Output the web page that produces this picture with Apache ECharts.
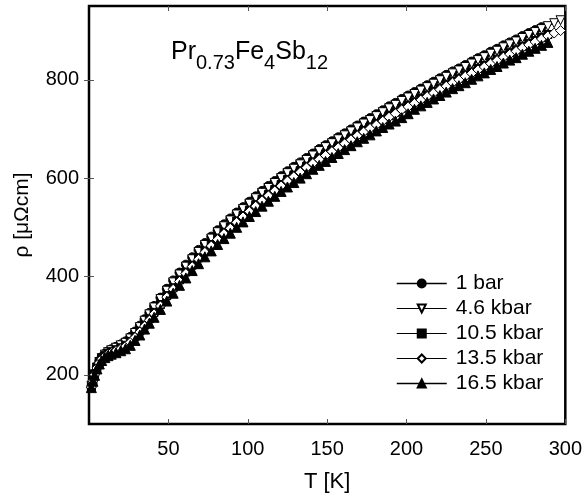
<!DOCTYPE html>
<html>
<head>
<meta charset="utf-8">
<script src="https://cdn.jsdelivr.net/npm/echarts@6/dist/echarts.min.js"></script>
<style>
  html, body { margin: 0; padding: 0; background: #fff; }
  #chart { width: 585px; height: 499px; }
</style>
</head>
<body>
<div id="chart"></div>
<script>
// temperature grid [K], shared by all pressures
const temps = [1.5, 2.5, 3.5, 5, 6.5, 8, 10, 12, 14, 17, 20, 23, 26, 29, 32, 35, 38,
  41, 45, 49, 53, 57, 61, 65, 69, 73, 77, 81, 85, 89, 93, 97, 101, 105, 109, 113, 117,
  121, 125, 129, 133, 137, 141, 145, 149, 153, 157, 161, 165, 169, 173, 177, 181, 185,
  189, 193, 197, 201, 205, 209, 213, 217, 221, 225, 229, 233, 237, 241, 245, 249, 253,
  257, 261, 265, 269, 273, 277, 281, 285, 289, 293, 297]

// resistivity [µΩcm]
const rho1bar = [176, 190, 203, 217, 228, 236, 243, 248, 252, 257, 262, 268, 277, 288, 300, 313, 326,
  340, 357, 375, 392, 408, 424, 439, 454, 468, 481, 494, 506, 518, 530, 541, 552, 563, 574, 584, 594,
  604, 614, 623, 632, 641, 650, 659, 667, 675, 683, 691, 699, 707, 715, 722, 730, 738,
  746, 753, 761, 768, 775, 782, 789, 796, 803, 810, 817, 823, 830, 837, 844, 850, 857,
  863, 870, 876, 882, 889, 895, 901, 907]
const rho4_6 = [177, 189, 201, 215, 226, 234, 241, 246, 250, 255, 260, 265, 274, 285, 297, 310, 323,
  337, 354, 371, 388, 404, 420, 435, 450, 464, 477, 490, 502, 514, 526, 537, 548, 559, 570, 580, 590,
  600, 610, 619, 628, 637, 646, 655, 663, 671, 679, 687, 695, 703, 711, 718, 726, 734,
  742, 749, 757, 764, 771, 778, 785, 792, 799, 806, 813, 819, 826, 833, 840, 846, 853,
  859, 866, 872, 878, 885, 891, 897, 903, 909, 915, 921]
const rho10_5 = [175, 189, 201, 215, 225, 233, 239, 244, 247, 251, 255, 260, 268, 278, 289, 301, 314,
  327, 343, 361, 377, 393, 409, 423, 438, 452, 465, 478, 490, 501, 513, 524, 535, 546, 557, 567, 577,
  587, 597, 606, 615, 624, 633, 641, 649, 657, 665, 673, 681, 689, 697, 704, 711, 719,
  727, 734, 742, 748, 755, 762, 769, 776, 783, 790, 797, 803, 810, 816, 823, 829, 836,
  842, 849, 855, 861, 868, 874, 880, 886, 892]
const rho13_5 = [175, 188, 200, 214, 224, 232, 238, 242, 245, 249, 253, 258, 266, 276, 287, 299, 311,
  324, 340, 358, 374, 390, 406, 420, 435, 449, 462, 475, 487, 498, 510, 521, 532, 543, 554, 564, 574,
  584, 594, 603, 612, 621, 630, 638, 646, 654, 662, 670, 678, 686, 694, 701, 708, 716,
  724, 731, 739, 745, 752, 759, 766, 773, 780, 787, 794, 800, 807, 813, 820, 826, 833,
  839, 846, 852, 858, 865, 871, 877, 883, 889, 895, 900]
const rho16_5 = [174, 187, 199, 212, 222, 229, 235, 239, 242, 245, 249, 253, 260, 270, 281, 293, 305,
  317, 333, 350, 366, 382, 397, 412, 426, 440, 452, 465, 477, 488, 500, 511, 522, 532, 543, 553, 563,
  573, 582, 591, 600, 609, 618, 626, 634, 642, 650, 658, 666, 674, 681, 688, 696, 703,
  710, 716, 723, 731, 740, 747, 754, 761, 768, 775, 782, 788, 794, 801, 808, 814, 821,
  827, 834, 840, 845, 852, 858, 864, 870, 876]

const seriesNames = ['1 bar', '4.6 kbar', '10.5 kbar', '13.5 kbar', '16.5 kbar']
const seriesValues = [rho1bar, rho4_6, rho10_5, rho13_5, rho16_5]

const xTicks = [50, 100, 150, 200, 250, 300]
const yTicks = [200, 400, 600, 800]

const font = 'Liberation Sans, Arial, Helvetica, sans-serif'

// marker look per pressure
const markers = [
  { symbol: 'circle', size: 9, fill: '#000', rotate: 0, legendLine: 1.5 },
  { symbol: 'triangle', size: 9, fill: '#fff', rotate: 180, legendLine: 1 },
  { symbol: 'rect', size: 8, fill: '#000', rotate: 0, legendLine: 1.2 },
  { symbol: 'diamond', size: 10, fill: '#fff', rotate: 0, legendLine: 1 },
  { symbol: 'triangle', size: 10, fill: '#000', rotate: 0, legendLine: 1.5 }
]

const chart = echarts.init(document.getElementById('chart'), null, { renderer: 'canvas' })

const series = seriesValues.map((vals, i) => {
  return {
    name: seriesNames[i],
    type: 'line',
    data: vals.map((v, k) => [temps[k], v]),
    symbol: markers[i].symbol,
    symbolSize: markers[i].size,
    symbolRotate: markers[i].rotate,
    showAllSymbol: true,
    animation: false,
    lineStyle: { color: '#000', width: i === 0 ? 1.5 : 1 },
    itemStyle: { color: markers[i].fill, borderColor: '#000', borderWidth: 1 }
  }
})

const tickStyle = { show: true, inside: true, length: 5, lineStyle: { color: '#555', width: 1 } }

const option = {
  backgroundColor: '#fff',
  animation: false,
  grid: {
    left: 89, right: 19, top: 6, bottom: 75,
    show: true, borderColor: '#000', borderWidth: 2.5, backgroundColor: 'transparent'
  },
  xAxis: [
    {
      type: 'value', min: 0, max: 300, interval: 50,
      name: 'T [K]', nameLocation: 'middle', nameGap: 47,
      nameTextStyle: { fontSize: 22, color: '#000', fontFamily: font },
      axisLine: { show: false },
      axisTick: Object.assign({ customValues: xTicks }, tickStyle),
      axisLabel: { customValues: xTicks, margin: 15, fontSize: 20, color: '#000', fontFamily: font },
      splitLine: { show: false }
    },
    {
      type: 'value', min: 0, max: 300, interval: 50, position: 'top',
      axisLine: { show: false },
      axisTick: Object.assign({ customValues: xTicks }, tickStyle),
      axisLabel: { show: false },
      splitLine: { show: false }
    }
  ],
  yAxis: [
    {
      type: 'value', min: 100, max: 950,
      name: 'ρ [μΩcm]', nameLocation: 'middle', nameGap: 56,
      nameTextStyle: { fontSize: 21, color: '#000', fontFamily: font },
      axisLine: { show: false },
      axisTick: Object.assign({ customValues: yTicks }, tickStyle),
      axisLabel: { customValues: yTicks, margin: 10, fontSize: 20, color: '#000', fontFamily: font },
      splitLine: { show: false }
    },
    {
      type: 'value', min: 100, max: 950, position: 'right',
      axisLine: { show: false },
      axisTick: Object.assign({ customValues: yTicks }, tickStyle),
      axisLabel: { show: false },
      splitLine: { show: false }
    }
  ],
  legend: {
    orient: 'vertical',
    left: 391, top: 268,
    itemWidth: 50, itemHeight: 10, itemGap: 4,
    data: seriesNames.map((n, i) => ({
      name: n,
      lineStyle: { color: '#000', width: markers[i].legendLine }
    })),
    textStyle: { fontSize: 21, color: '#000', fontFamily: font, padding: [0, 0, 0, 4] }
  },
  graphic: [
    {
      type: 'text', left: 171, top: 40,
      style: {
        text: '{m|Pr}{s|0.73}{m|Fe}{s|4}{m|Sb}{s|12}',
        fill: '#000',
        rich: {
          m: { fontSize: 25, lineHeight: 25, verticalAlign: 'middle', fontFamily: font },
          s: { fontSize: 20, lineHeight: 42, verticalAlign: 'bottom', fontFamily: font }
        }
      }
    }
  ],
  series: series
}

chart.setOption(option)
</script>
</body>
</html>
